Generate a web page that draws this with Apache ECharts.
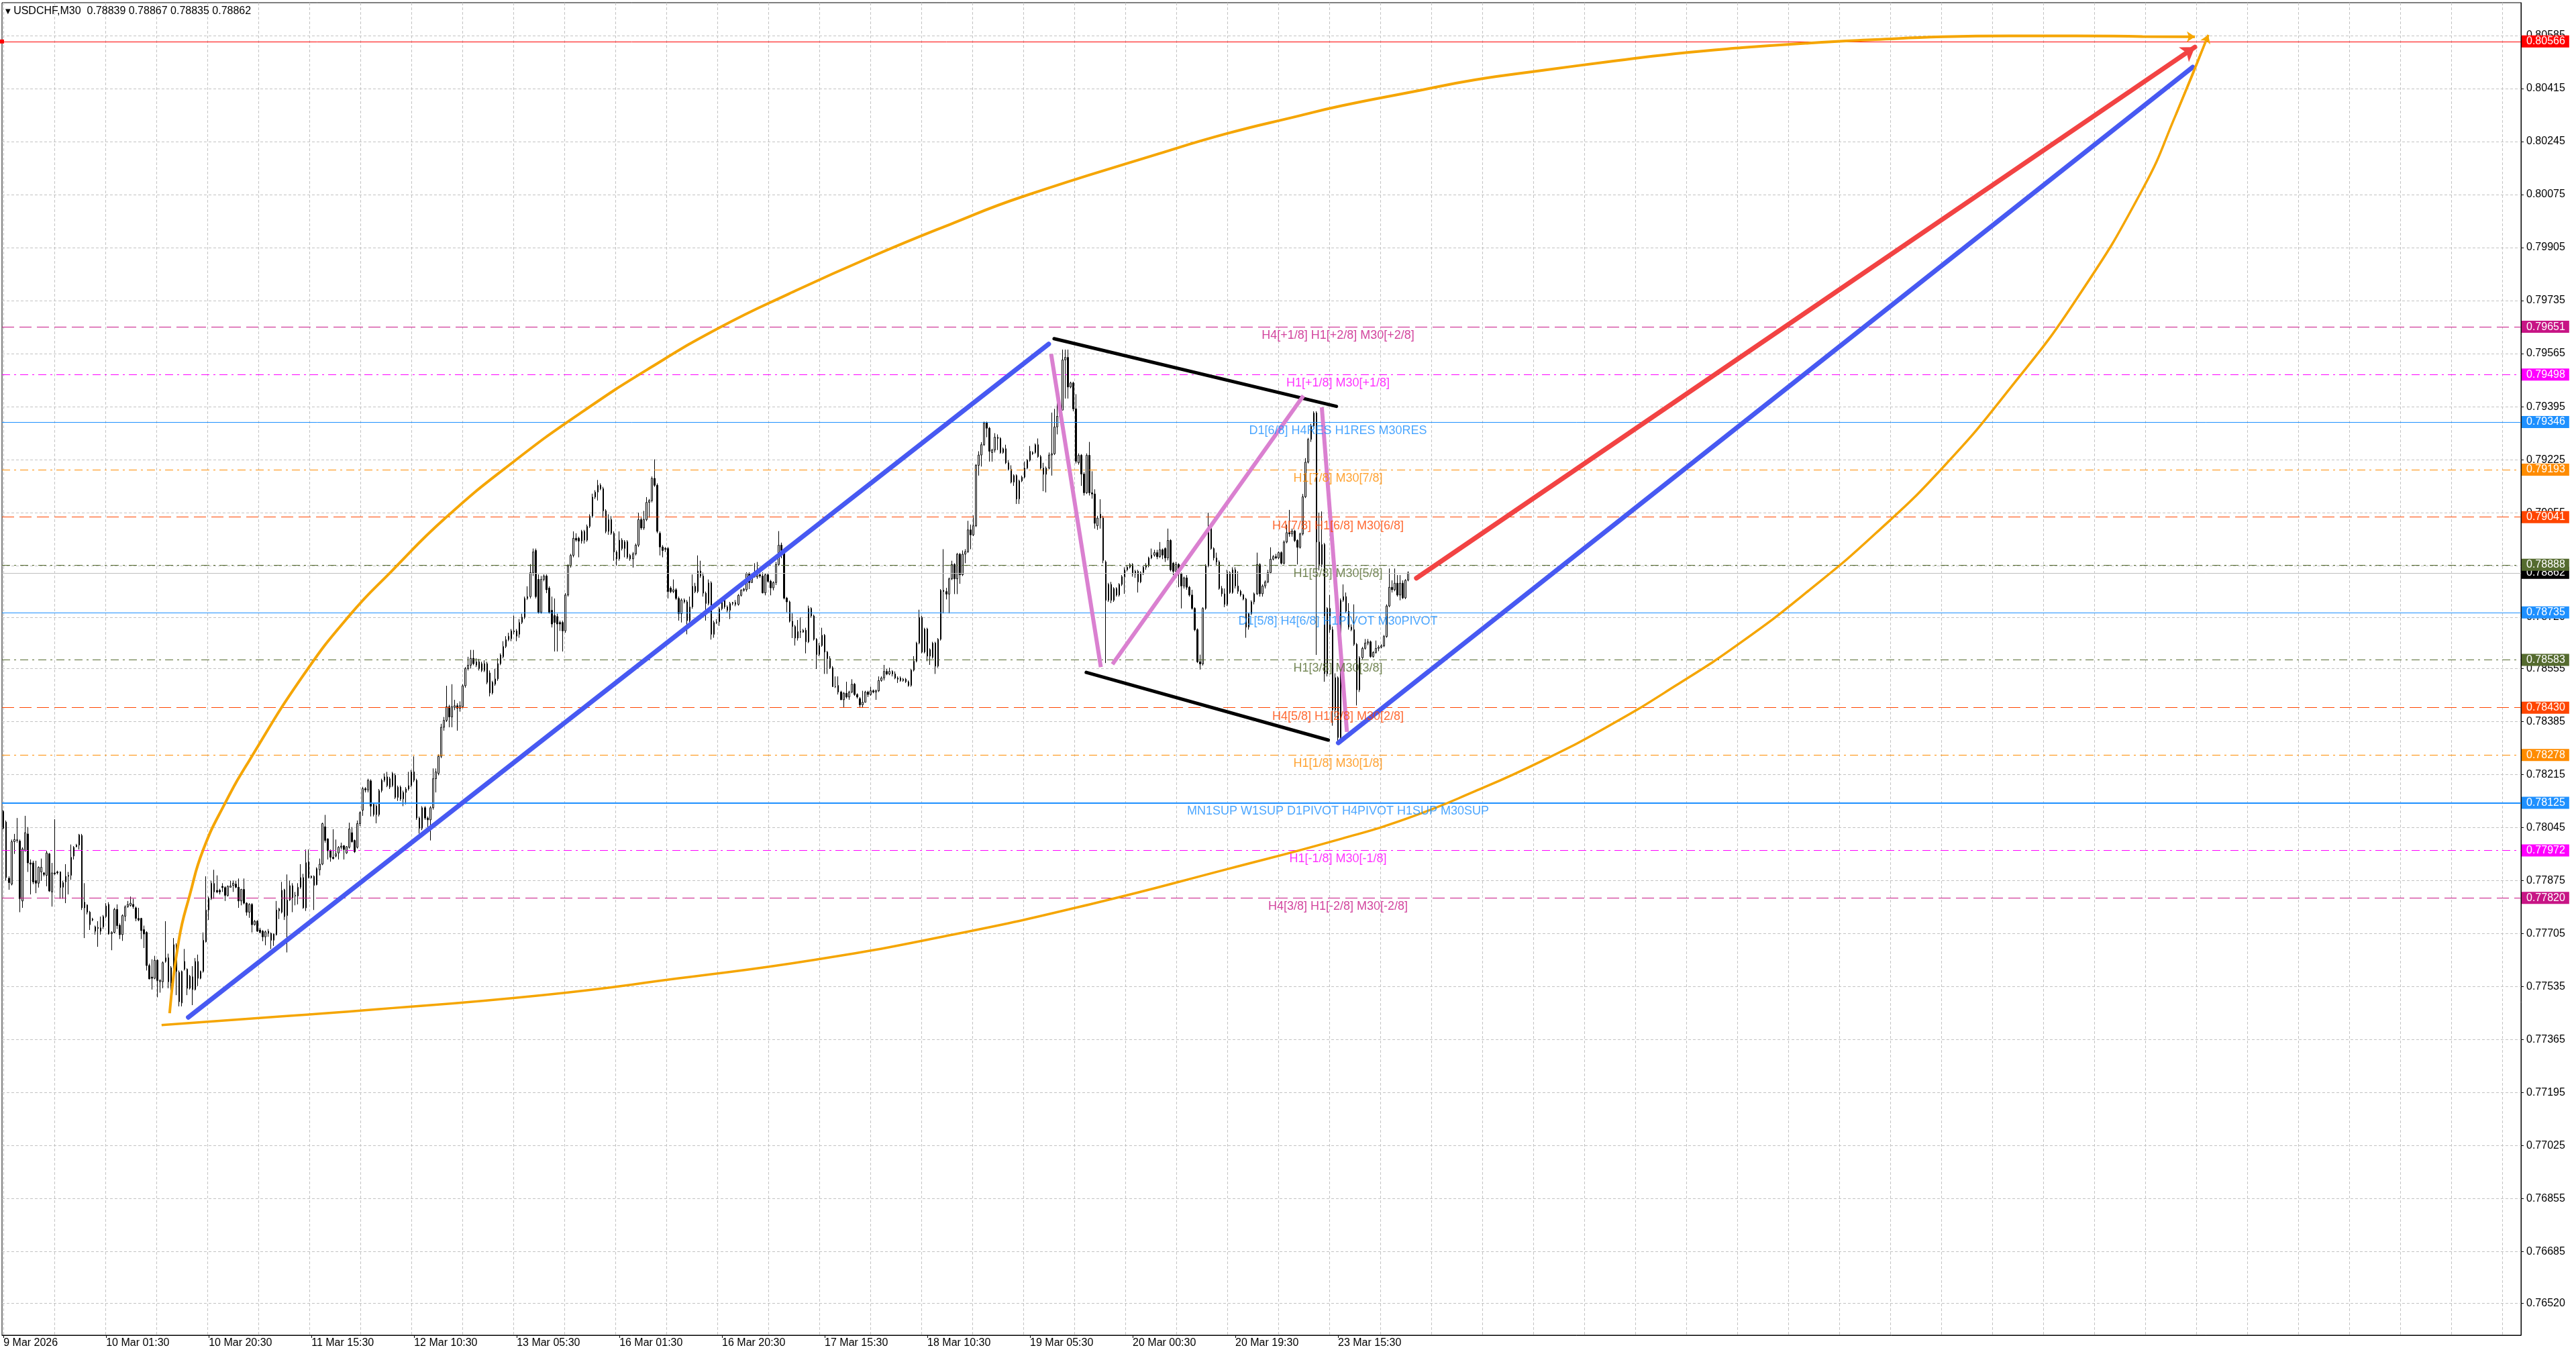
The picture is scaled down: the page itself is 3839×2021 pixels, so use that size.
<!DOCTYPE html>
<html>
<head>
<meta charset="utf-8">
<title>USDCHF,M30</title>
<script src="https://cdn.jsdelivr.net/npm/echarts@6/dist/echarts.min.js"></script>
<style>
html, body { margin: 0; padding: 0; background: #fff; }
#chart { width: 3839px; height: 2021px; }
</style>
</head>
<body>
<div id="chart"></div>
<script>
// prices kept in 1e-5 units, divided by SCALE when the option is built
const SCALE = 100000;

// M30 bars, one row per bar: [open, close, low, high]
const candles = [
  [78097,78043,78040,78101],[78063,77885,77875,78068],[77883,77869,77846,77889],[77864,78000,77860,78007],[78000,78007,77961,78025],[78004,78006,77997,78076],
  [78002,77817,77774,78007],[77810,77977,77788,77982],[77971,78029,77968,78083],[78025,77932,77903,78047],[77932,77928,77831,77943],[77932,77871,77864,77939],
  [77875,77867,77835,77939],[77867,77918,77853,77921],[77903,77918,77875,77946],[77900,77895,77889,77903],[77892,77964,77857,77971],[77961,77842,77839,77964],
  [77839,77900,77792,77932],[77900,77897,77892,78072],[77903,77900,77895,77907],[77903,77853,77817,77905],[77854,77869,77817,77875],[77871,77889,77803,77928],
  [77889,77892,77831,77903],[77892,77950,77878,77991],[77954,77982,77943,77986],[77984,77989,77982,77993],[77989,78022,77975,78025],[78020,77788,77781,78025],
  [77806,77788,77691,77867],[77797,77774,77767,77799],[77774,77734,77717,77778],[77752,77749,77745,77756],[77727,77713,77702,77731],[77725,77722,77663,77745],
  [77724,77713,77702,77760],[77727,77760,77720,77765],[77760,77794,77755,77803],[77799,77704,77702,77806],[77705,77709,77652,77713],[77709,77783,77706,77788],
  [77783,77731,77720,77799],[77732,77702,77688,77738],[77702,77763,77682,77767],[77761,77791,77745,77796],[77792,77799,77788,77810],[77796,77803,77792,77824],
  [77799,77792,77785,77817],[77788,77754,77745,77792],[77754,77749,77745,77788],[77754,77715,77688,77756],[77718,77704,77659,77731],[77709,77603,77587,77713],
  [77603,77560,77559,77609],[77566,77562,77526,77623],[77562,77620,77559,77634],[77620,77555,77501,77623],[77551,77555,77516,77559],[77551,77612,77530,77616],
  [77616,77628,77612,77745],[77628,77551,77530,77641],[77546,77596,77523,77601],[77584,77670,77580,77691],[77668,77584,77508,77674],[77581,77487,77472,77587],
  [77483,77584,77472,77587],[77616,77591,77587,77656],[77591,77530,77508,77594],[77530,77569,77526,77573],[77567,77526,77476,77601],[77526,77616,77523,77627],
  [77616,77562,77537,77638],[77562,77584,77559,77587],[77584,77684,77580,77709],[77679,77781,77677,77889],[77781,77819,77749,77824],[77817,77867,77813,77875],
  [77866,77839,77817,77910],[77844,77839,77835,77892],[77844,77839,77831,77849],[77857,77853,77839,77867],[77853,77828,77810,77857],[77828,77857,77824,77860],
  [77854,77858,77853,77875],[77860,77867,77839,77875],[77864,77854,77851,77875],[77854,77810,77788,77882],[77810,77847,77796,77849],[77847,77803,77799,77882],
  [77803,77774,77763,77806],[77774,77799,77756,77803],[77799,77734,77709,77803],[77734,77745,77731,77749],[77745,77713,77711,77749],[77717,77709,77706,77724],
  [77713,77695,77681,77717],[77695,77711,77668,77715],[77713,77706,77695,77720],[77706,77684,77656,77709],[77684,77704,77666,77706],[77702,77781,77699,77810],
  [77778,77785,77752,77788],[77774,77844,77770,77871],[77846,77760,77749,77849],[77763,77813,77645,77895],[77813,77859,77810,77875],[77859,77819,77774,77867],
  [77826,77828,77796,77839],[77826,77854,77799,77867],[77854,77885,77849,77928],[77885,77788,77785,77897],[77788,77933,77778,77975],[77936,77885,77882,77975],
  [77889,77885,77882,77892],[77889,77860,77781,77892],[77862,77914,77860,77918],[77910,77928,77892,77946],[77928,78058,77925,78061],[78048,78004,77997,78086],
  [78009,77971,77943,78011],[77971,77950,77936,77975],[77950,77946,77943,78040],[77954,77961,77950,78007],[77964,77982,77943,77986],[77982,77986,77975,77997],
  [77987,77975,77943,77989],[77964,77984,77961,77986],[77982,78041,77978,78061],[78029,78000,77997,78047],[78004,77968,77964,78007],[77982,78058,77978,78068],
  [78058,78093,78050,78097],[78101,78170,78083,78176],[78170,78166,78158,78175],[78166,78197,78158,78202],[78195,78114,78081,78200],[78120,78087,78081,78125],
  [78114,78087,78059,78120],[78087,78164,78081,78169],[78164,78197,78158,78202],[78197,78208,78191,78219],[78208,78180,78175,78224],[78202,78175,78169,78208],
  [78180,78219,78175,78224],[78213,78142,78137,78219],[78142,78175,78131,78180],[78175,78137,78131,78180],[78137,78158,78114,78164],[78158,78169,78120,78175],
  [78169,78180,78164,78224],[78180,78224,78175,78230],[78224,78197,78191,78274],[78197,78076,78070,78202],[78076,78043,78026,78081],[78043,78109,78037,78114],
  [78109,78076,78070,78114],[78076,78070,78043,78081],[78070,78109,78004,78114],[78109,78202,78103,78235],[78202,78224,78158,78235],[78219,78274,78213,78280],
  [78274,78367,78268,78378],[78367,78389,78356,78400],[78389,78433,78384,78500],[78433,78400,78367,78439],[78400,78433,78367,78505],[78431,78436,78422,78455],
  [78436,78428,78356,78444],[78428,78436,78417,78450],[78433,78500,78428,78505],[78500,78555,78494,78560],[78555,78566,78549,78593],[78566,78588,78555,78615],
  [78588,78571,78566,78615],[78566,78577,78560,78588],[78577,78555,78549,78586],[78571,78549,78544,78577],[78549,78571,78544,78582],[78571,78511,78505,78577],
  [78541,78477,78466,78549],[78477,78511,78472,78516],[78505,78522,78500,78555],[78522,78571,78516,78588],[78571,78599,78566,78604],[78593,78626,78588,78643],
  [78626,78648,78621,78659],[78648,78659,78643,78670],[78651,78676,78643,78682],[78676,78673,78665,78725],[78676,78659,78643,78682],[78665,78703,78654,78714],
  [78703,78720,78698,78731],[78720,78780,78714,78786],[78780,78786,78775,78819],[78786,78863,78780,78890],[78863,78929,78852,78940],[78934,78786,78780,78940],
  [78841,78736,78731,78857],[78736,78841,78731,78852],[78841,78852,78835,78857],[78852,78808,78797,78857],[78813,78736,78731,78819],[78742,78698,78687,78786],
  [78725,78703,78610,78780],[78722,78698,78610,78731],[78703,78698,78676,78709],[78703,78676,78610,78709],[78676,78791,78670,78797],[78791,78885,78786,78890],
  [78885,78918,78879,78923],[78918,78973,78912,78995],[78973,78967,78962,78989],[78973,78964,78912,78978],[78964,78995,78956,79000],[78995,78967,78956,79000],
  [78967,79011,78962,79017],[79011,79044,79006,79050],[79044,79105,79039,79116],[79105,79121,79099,79127],[79121,79143,79094,79160],[79143,79132,79127,79149],
  [79132,79061,79039,79138],[79061,78995,78989,79066],[78995,79033,78984,79050],[79033,78989,78984,79044],[78989,78929,78901,78995],[78929,78907,78885,78934],
  [78907,78967,78901,78995],[78967,78940,78934,78973],[78940,78962,78912,78967],[78962,78912,78907,78967],[78918,78907,78901,78923],[78907,78923,78879,78929],
  [78923,78951,78918,78956],[78951,79033,78945,79055],[79033,79006,79000,79039],[79006,79033,79000,79061],[79033,79088,79028,79105],[79088,79094,79039,79099],
  [79094,79165,79088,79171],[79165,79143,79138,79226],[79143,78995,78989,79149],[78989,78945,78918,78995],[78945,78934,78912,78951],[78940,78938,78929,78945],
  [78940,78802,78780,78945],[78813,78802,78797,78819],[78802,78808,78797,78841],[78808,78780,78775,78813],[78780,78731,78709,78786],[78731,78775,78703,78780],
  [78775,78769,78764,78780],[78769,78709,78665,78775],[78709,78753,78703,78786],[78753,78819,78747,78857],[78819,78802,78797,78830],[78802,78868,78797,78918],
  [78868,78852,78846,78901],[78852,78797,78786,78863],[78797,78764,78709,78802],[78764,78830,78758,78841],[78830,78665,78648,78835],[78665,78703,78654,78709],
  [78703,78705,78698,78714],[78705,78747,78692,78753],[78747,78775,78742,78780],[78775,78753,78747,78780],[78753,78742,78736,78758],[78742,78764,78714,78769],
  [78764,78767,78758,78769],[78767,78761,78755,78775],[78761,78790,78757,78794],[78790,78806,78786,78810],[78806,78810,78802,78814],[78808,78860,78802,78864],
  [78860,78831,78810,78864],[78831,78852,78831,78856],[78852,78849,78848,78893],[78849,78856,78843,78897],[78856,78852,78846,78864],[78852,78798,78796,78864],
  [78798,78856,78790,78860],[78856,78835,78831,78860],[78835,78814,78790,78840],[78814,78831,78806,78835],[78831,78889,78823,78897],[78889,78951,78885,78996],
  [78951,78926,78909,78959],[78926,78781,78777,78930],[78781,78769,78736,78785],[78769,78707,78703,78773],[78707,78690,78653,78732],[78690,78653,78629,78695],
  [78653,78674,78645,78711],[78674,78672,78653,78719],[78672,78678,78670,78682],[78678,78641,78604,78686],[78641,78748,78637,78757],[78748,78724,78719,78752],
  [78724,78649,78645,78728],[78649,78600,78554,78653],[78600,78629,78595,78637],[78629,78662,78625,78686],[78662,78608,78538,78666],[78608,78587,78538,78612],
  [78587,78558,78554,78595],[78558,78497,78497,78563],[78497,78497,78493,78530],[78501,78480,78472,78530],[78480,78455,78455,78484],[78455,78476,78430,78480],
  [78476,78464,78459,78513],[78464,78480,78455,78484],[78480,78505,78476,78521],[78505,78472,78468,78509],[78472,78464,78459,78476],[78459,78439,78430,78464],
  [78439,78447,78430,78484],[78447,78480,78447,78484],[78480,78472,78464,78484],[78472,78484,78468,78497],[78484,78480,78476,78488],[78480,78484,78455,78488],
  [78484,78517,78480,78530],[78517,78525,78513,78530],[78525,78546,78517,78567],[78546,78538,78534,78554],[78538,78546,78534,78558],[78546,78538,78530,78550],
  [78538,78525,78521,78546],[78525,78521,78509,78530],[78525,78517,78513,78530],[78517,78521,78513,78525],[78521,78513,78509,78525],[78513,78501,78497,78517],
  [78501,78550,78497,78554],[78550,78579,78546,78595],[78579,78637,78575,78641],[78637,78719,78633,78744],[78719,78608,78604,78724],[78608,78682,78604,78686],
  [78682,78595,78579,78686],[78616,78595,78567,78620],[78591,78637,78587,78641],[78637,78563,78538,78641],[78563,78649,78558,78653],[78649,78806,78645,78810],
  [78806,78802,78732,78938],[78802,78794,78777,78814],[78794,78843,78732,78847],[78843,78889,78839,78901],[78889,78843,78794,78893],[78843,78922,78794,78926],
  [78922,78856,78827,78926],[78856,78922,78852,78934],[78922,78930,78893,78938],[78930,79000,78926,79029],[79000,78984,78938,79017],[78984,79013,78980,79046],
  [79013,79207,79009,79211],[79207,79240,79174,79252],[79240,79273,79203,79281],[79273,79343,79269,79347],[79343,79326,79297,79347],[79326,79252,79219,79330],
  [79248,79256,79219,79260],[79256,79297,79248,79310],[79297,79293,79256,79306],[79293,79248,79244,79297],[79248,79260,79244,79264],[79260,79215,79211,79273],
  [79215,79194,79190,79223],[79194,79153,79149,79207],[79153,79174,79141,79178],[79174,79099,79083,79178],[79099,79157,79083,79161],[79157,79169,79153,79174],
  [79169,79198,79165,79219],[79198,79223,79194,79227],[79223,79252,79219,79269],[79244,79248,79240,79252],[79248,79273,79244,79277],[79273,79235,79231,79293],
  [79235,79198,79194,79240],[79198,79178,79124,79215],[79178,79198,79120,79203],[79198,79240,79194,79248],[79240,79244,79174,79376],[79244,79330,79240,79388],
  [79330,79364,79306,79450],[79364,79384,79360,79392],[79384,79545,79384,79578],[79545,79553,79421,79578],[79553,79458,79421,79578],[79458,79471,79454,79475],
  [79471,79388,79380,79475],[79388,79220,79213,79435],[79215,79239,79209,79245],[79239,79179,79141,79243],[79179,79119,79110,79185],[79119,79239,79115,79245],
  [79239,79119,79110,79282],[79119,79115,79100,79188],[79115,79021,79004,79130],[79013,79038,79000,79045],[79050,79038,79004,79098],[79038,78902,78893,79045],
  [78897,78774,78573,78902],[78774,78825,78769,78830],[78825,78774,78765,78833],[78774,78812,78769,78816],[78812,78791,78786,78816],[78791,78825,78786,78829],
  [78825,78850,78820,78855],[78850,78872,78795,78880],[78872,78880,78867,78885],[78880,78889,78876,78893],[78889,78859,78850,78893],[78859,78867,78846,78872],
  [78867,78833,78799,78872],[78833,78863,78829,78867],[78863,78880,78855,78885],[78880,78885,78872,78893],[78885,78910,78880,78914],[78910,78919,78906,78940],
  [78919,78927,78914,78936],[78927,78914,78906,78936],[78914,78936,78910,78961],[78936,78919,78906,78940],[78940,78910,78897,78944],[78910,78966,78902,79004],
  [78966,78872,78867,78970],[78893,78867,78855,78897],[78867,78889,78860,78897],[78889,78859,78816,78893],[78859,78820,78748,78863],[78820,78846,78812,78850],
  [78846,78816,78808,78855],[78816,78791,78786,78820],[78791,78748,78744,78808],[78748,78680,78675,78752],[78680,78577,78573,78684],[78577,78570,78552,78600],
  [78570,78748,78565,78752],[78748,78885,78744,78890],[78885,79008,78880,79055],[79008,78940,78936,79013],[78940,78910,78902,78944],[78910,78897,78885,78927],
  [78897,78812,78808,78902],[78812,78795,78786,78820],[78795,78761,78752,78812],[78761,78863,78756,78872],[78863,78799,78795,78867],[78799,78872,78795,78880],
  [78872,78820,78812,78880],[78820,78803,78795,78867],[78803,78791,78786,78808],[78791,78778,78774,78795],[78778,78688,78654,78782],[78688,78731,78680,78735],
  [78731,78769,78727,78774],[78769,78795,78761,78799],[78795,78889,78791,78927],[78889,78795,78786,78893],[78795,78820,78786,78825],[78820,78833,78812,78838],
  [78833,78863,78829,78872],[78863,78906,78859,78944],[78906,78914,78902,78919],[78914,78910,78906,78923],[78910,78927,78906,78931],[78927,78893,78889,78931],
  [78893,78961,78889,78966],[78961,78991,78957,79017],[78991,78987,78978,79064],[78987,78996,78978,79004],[78996,78966,78961,79000],[78966,78944,78889,78970],
  [78944,78987,78940,78991],[78987,79106,78982,79115],[79106,79217,79102,79230],[79217,79290,79213,79295],[79290,79333,79282,79340],[79333,79375,79329,79380],
  [79375,78961,78599,79380],[78961,78889,78870,79055],[78889,78953,78880,79059],[78953,78539,78513,78958],[78539,78748,78530,78752],[78748,78680,78670,78791],
  [78680,78423,78372,78690],[78423,78526,78400,78540],[78526,78334,78321,78530],[78334,78774,78330,78780],[78774,78786,78769,78825],[78786,78739,78735,78799],
  [78739,78688,78680,78765],[78688,78680,78675,78697],[78680,78633,78628,78761],[78633,78487,78437,78637],[78487,78590,78480,78595],[78590,78620,78585,78625],
  [78620,78637,78616,78650],[78637,78641,78630,78650],[78641,78594,78590,78645],[78594,78607,78590,78611],[78607,78620,78603,78645],[78620,78624,78611,78630],
  [78624,78628,78620,78633],[78628,78658,78624,78663],[78658,78756,78654,78761],[78756,78816,78752,78876],[78816,78808,78799,78838],[78808,78829,78803,78876],
  [78829,78791,78786,78855],[78791,78829,78774,78855],[78829,78782,78778,78838],[78782,78838,78778,78842],[78839,78862,78835,78867]
];

// time labels, one every 38 bars
const xTickLabels = ['9 Mar 2026', '10 Mar 01:30', '10 Mar 20:30', '11 Mar 15:30', '12 Mar 10:30', '13 Mar 05:30', '16 Mar 01:30',
  '16 Mar 20:30', '17 Mar 15:30', '18 Mar 10:30', '19 Mar 05:30', '20 Mar 00:30', '20 Mar 19:30', '23 Mar 15:30'];

const yTicks = [0.80585, 0.80415, 0.80245, 0.80075, 0.79905, 0.79735, 0.79565, 0.79395, 0.79225, 0.79055, 0.78885, 0.78720, 0.78555,
  0.78385, 0.78215, 0.78045, 0.77875, 0.77705, 0.77535, 0.77365, 0.77195, 0.77025, 0.76855, 0.76685, 0.76520];

// horizontal levels (murrey / pivot indicator)
const levelPrices = [0.80566, 0.79651, 0.79498, 0.79346, 0.79193, 0.79041, 0.78888, 0.78735, 0.78583, 0.78430, 0.78278, 0.78125, 0.77972, 0.77820];
const levelTexts = ['', 'H4[+1/8] H1[+2/8] M30[+2/8]', 'H1[+1/8] M30[+1/8]', 'D1[6/8] H4RES H1RES M30RES', 'H1[7/8] M30[7/8]',
  'H4[7/8] H1[6/8] M30[6/8]', 'H1[5/8] M30[5/8]', 'D1[5/8] H4[6/8] H1PIVOT M30PIVOT', 'H1[3/8] M30[3/8]', 'H4[5/8] H1[2/8] M30[2/8]',
  'H1[1/8] M30[1/8]', 'MN1SUP W1SUP D1PIVOT H4PIVOT H1SUP M30SUP', 'H1[-1/8] M30[-1/8]', 'H4[3/8] H1[-2/8] M30[-2/8]'];

// hand drawn objects, points are [bar, price]
const topArc = [[61.5, 0.77450], [64.96, 0.77687], [68.98, 0.77830], [73.92, 0.77974], [82.05, 0.78124], [91.04, 0.78261],
  [110.69, 0.78530], [128.32, 0.78728], [143.72, 0.78868], [163.84, 0.79040], [189.18, 0.79221], [214.51, 0.79380], [239.85, 0.79522],
  [265.19, 0.79649], [290.78, 0.79757], [321.08, 0.79875], [351.38, 0.79983], [376.72, 0.80067], [427.64, 0.80206],
  [452.98, 0.80271], [478.31, 0.80325], [495.45, 0.80360], [520.04, 0.80402], [544.64, 0.80443], [569.48, 0.80473],
  [594.07, 0.80501], [618.91, 0.80527], [643.5, 0.80546], [668.34, 0.80561], [692.94, 0.80572], [717.78, 0.80581],
  [742.37, 0.80584], [767.21, 0.80584], [791.8, 0.80582], [811.2, 0.80581]];
const bottomArc = [[58.52, 0.77412], [98.02, 0.77437], [132.8, 0.77459], [199.4, 0.77508], [250.0, 0.77562],
  [300.7, 0.77622], [351.4, 0.77702], [402.05, 0.77799], [452.98, 0.77912], [495.45, 0.78010], [520.04, 0.78076],
  [544.76, 0.78162], [569.48, 0.78259], [594.2, 0.78371], [618.91, 0.78500], [643.6, 0.78642], [668.34, 0.78806],
  [693.06, 0.78989], [717.78, 0.79199], [742.5, 0.79451], [767.21, 0.79738], [791.93, 0.80094], [804.23, 0.80333],
  [816.15, 0.80587]];
const blueLines = [[[68.4, 0.77437], [386.9, 0.79596]], [[494.1, 0.78317], [810.4, 0.80484]]];
const blackLines = [[[388.9, 0.79613], [493.4, 0.79396]], [[400.8, 0.78543], [490.4, 0.78326]]];
const pinkLines = [[[387.8, 0.79564], [406.2, 0.78560]], [[410.5, 0.78569], [481.2, 0.79430]], [[488.0, 0.79393], [497.3, 0.78352]]];
const redArrow = [[523.0, 0.78845], [811.2, 0.80548]];

// ---- layout / style ----
const FONT = 'Liberation Sans';
const BAR_PX = 4.0258;          // pixels per bar
const GRID_PX = 76;             // terminal grid spacing in pixels
const X_MIN = -0.55, X_MAX = 931.9;
const Y_MIN = 0.764176, Y_MAX = 0.806904;
const TEXT_BAR = 494;

const levelColors = ['#FF0000', '#C71585', '#FF00FF', '#1E90FF', '#FF8C00', '#FF4500', '#556B2F', '#1E90FF', '#556B2F', '#FF4500',
  '#FF8C00', '#1E90FF', '#FF00FF', '#C71585'];
const levelKinds = ['solid', 'dash', 'dashdot', 'solid', 'dashdot', 'dash', 'dashdot', 'solid', 'dashdot', 'dash', 'dashdot', 'solid', 'dashdot', 'dash'];
const DASHES = { solid: 'solid', dash: [18, 8], dashdot: [12, 6, 3, 6] };

const ORANGE = '#F5A500';
const BLUE = '#4759F2';
const RED = '#F24343';
const PINK = '#DA80D0';

const labelBars = xTickLabels.map((_, i) => i * 38);
const gridBars = [];
for (let v = 0; v <= X_MAX; v += GRID_PX / BAR_PX) gridBars.push(v);

const candleData = candles.map((c, i) => [i, c[0] / SCALE, c[1] / SCALE, c[2] / SCALE, c[3] / SCALE]);
const last = candles[candles.length - 1];
const fmt = v => (v / SCALE).toFixed(5);
const lastClose = last[1] / SCALE;

const tagLabel = color => ({ backgroundColor: color });

const levelLines = [{
  yAxis: lastClose,
  lineStyle: { color: '#C0C0C0', type: 'solid', width: 1 },
  label: tagLabel('#000000')
}];
levelPrices.forEach((p, i) => {
  const item = {
    yAxis: p,
    lineStyle: { color: levelColors[i], type: DASHES[levelKinds[i]], width: p === 0.78125 ? 2 : 1 },
    label: tagLabel(levelColors[i])
  };
  if (i === 0) { item.symbol = ['emptyRect', 'emptyRect']; item.symbolSize = 6; }
  levelLines.push(item);
});

const textData = [];
levelTexts.forEach((t, i) => {
  if (!t) return;
  textData.push({ value: [TEXT_BAR, levelPrices[i]], label: { formatter: t, color: levelColors[i] } });
});

const solid = (color, width, cap) => ({ color, width, opacity: 1, cap: cap || 'butt' });

const myChart = echarts.init(document.getElementById('chart'));

const option = {
  animation: false,
  backgroundColor: '#fff',
  title: {
    text: '{t|\u25BC} USDCHF,M30  ' + [fmt(last[0]), fmt(last[3]), fmt(last[2]), fmt(last[1])].join(' '),
    left: 8, top: 9, padding: 0,
    textStyle: {
      fontFamily: FONT, fontSize: 16, fontWeight: 'normal', color: '#000',
      rich: { t: { fontFamily: 'DejaVu Sans', fontSize: 10, color: '#000' } }
    }
  },
  grid: {
    left: 3, right: 82, top: 4, bottom: 31,
    show: true, borderColor: '#000', borderWidth: 1, backgroundColor: '#fff'
  },
  xAxis: [{
    type: 'value', min: X_MIN, max: X_MAX, position: 'bottom',
    axisLine: { show: true, onZero: false, lineStyle: { color: '#000', width: 1 } },
    axisTick: { show: true, customValues: labelBars, length: 4, lineStyle: { color: '#000' } },
    axisLabel: {
      customValues: labelBars, align: 'left', margin: 4, color: '#000', fontFamily: FONT, fontSize: 16,
      formatter: v => xTickLabels[Math.round(v / 38)] || ''
    },
    splitLine: { show: false }
  }, {
    type: 'value', min: X_MIN, max: X_MAX,
    axisLine: { show: false }, axisLabel: { show: false },
    axisTick: { show: false, customValues: gridBars },
    splitLine: { show: true, lineStyle: { color: '#C3C3C3', type: [4, 3], width: 1 } }
  }],
  yAxis: {
    type: 'value', position: 'right', min: Y_MIN, max: Y_MAX,
    axisLine: { show: true, onZero: false, lineStyle: { color: '#000', width: 1 } },
    axisTick: { show: true, customValues: yTicks, length: 4, lineStyle: { color: '#000' } },
    axisLabel: { customValues: yTicks, margin: 8, color: '#000', fontFamily: FONT, fontSize: 16, formatter: v => v.toFixed(5) },
    splitLine: { show: true, lineStyle: { color: '#C3C3C3', type: [4, 3], width: 1 } }
  },
  series: [
    {
      name: 'levels', type: 'line', data: [], clip: false, silent: true,
      markLine: {
        silent: true, symbol: 'none', animation: false, z: 3, precision: 6,
        label: {
          show: true, position: 'end', distance: 1, color: '#fff', fontFamily: FONT, fontSize: 16,
          lineHeight: 16, padding: [1, 6, 1, 7],
          formatter: p => Number(p.value).toFixed(5)
        },
        emphasis: { disabled: true },
        data: levelLines
      }
    },
    {
      name: 'USDCHF', type: 'candlestick', data: candleData, z: 2, barWidth: 2, silent: true,
      itemStyle: { color: '#fff', color0: '#000', borderColor: '#000', borderColor0: '#000', borderWidth: 1 }
    },
    {
      type: 'line', data: topArc, z: 6, smooth: 0.5, showSymbol: false, silent: true,
      lineStyle: solid(ORANGE, 4)
    },
    {
      type: 'line', data: bottomArc, z: 6, smooth: 0.5, showSymbol: false, silent: true,
      lineStyle: solid(ORANGE, 3.5)
    },
    {
      type: 'lines', coordinateSystem: 'cartesian2d', z: 7, silent: true, symbol: 'none',
      data: [
        ...blueLines.map(c => ({ coords: c, lineStyle: solid(BLUE, 7, 'round') })),
        ...blackLines.map(c => ({ coords: c, lineStyle: solid('#000', 5, 'round') })),
        ...pinkLines.map(c => ({ coords: c, lineStyle: solid(PINK, 6) }))
      ]
    },
    {
      type: 'lines', coordinateSystem: 'cartesian2d', z: 7, silent: true,
      symbol: ['none', 'arrow'], symbolSize: 20,
      data: [{ coords: redArrow, lineStyle: solid(RED, 7, 'round') }]
    },
    {
      type: 'lines', coordinateSystem: 'cartesian2d', z: 7, silent: true,
      symbol: ['none', 'arrow'], symbolSize: 12,
      data: [
        { coords: topArc.slice(-2), lineStyle: solid(ORANGE, 3) },
        { coords: bottomArc.slice(-2), lineStyle: solid(ORANGE, 3) }
      ]
    },
    {
      type: 'scatter', data: textData, symbolSize: 0, z: 9, silent: true,
      label: { show: true, position: 'bottom', distance: 4, fontFamily: FONT, fontSize: 18 }
    }
  ]
};

myChart.setOption(option);
</script>
</body>
</html>
